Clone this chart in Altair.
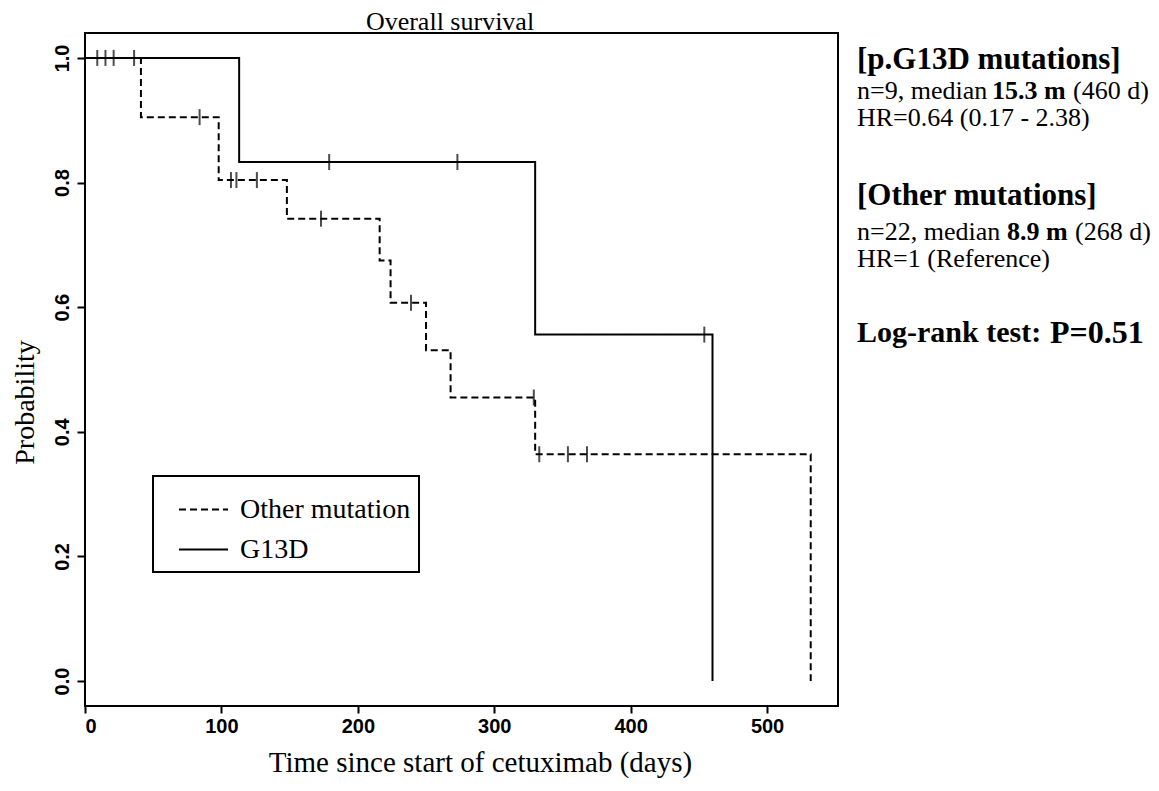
import altair as alt
import pandas as pd

# Kaplan-Meier steps (days, survival probability)
g13d_times = [0, 113, 330, 460]
g13d_surv = [1.0, 0.833, 0.556, 0.0]
other_times = [0, 41, 98, 148, 216, 224, 250, 268, 330, 532]
other_surv = [1.0, 0.905, 0.804, 0.742, 0.675, 0.607, 0.531, 0.455, 0.364, 0.0]

# censoring marks (days)
g13d_censor = [9, 15, 21, 179, 273, 454]
other_censor = [36, 84, 107, 111, 126, 173, 239, 329, 333, 354, 368]

groups = ["Other mutation", "G13D"]
x_ticks = [0, 100, 200, 300, 400, 500]
y_ticks = [0.0, 0.2, 0.4, 0.6, 0.8, 1.0]

SERIF = "Liberation Serif"
SANS = "Liberation Sans Narrow, Liberation Sans"


def surv_at(times, surv, t):
    val = surv[0]
    for tt, s in zip(times, surv):
        if tt <= t:
            val = s
    return val


curves = pd.DataFrame(
    [{"group": "G13D", "time": t, "surv": s} for t, s in zip(g13d_times, g13d_surv)]
    + [{"group": "Other mutation", "time": t, "surv": s} for t, s in zip(other_times, other_surv)]
)
censors = pd.DataFrame(
    [{"group": "G13D", "time": t, "surv": surv_at(g13d_times, g13d_surv, t)} for t in g13d_censor]
    + [{"group": "Other mutation", "time": t, "surv": surv_at(other_times, other_surv, t)} for t in other_censor]
)

x_enc = alt.X(
    "time:Q",
    scale=alt.Scale(domain=[0, 552], nice=False, zero=False),
    axis=alt.Axis(
        values=x_ticks, format="d", grid=False, domain=False,
        tickSize=7, tickWidth=2, tickColor="black",
        labelFont=SANS, labelFontSize=20, labelFontWeight="bold", labelColor="black", labelPadding=3,
        title="Time since start of cetuximab (days)", titleFont=SERIF, titleFontSize=29,
        titleFontWeight="normal", titleColor="black", titleX=395, titleY=56,
        titleAlign="center", titleBaseline="middle",
    ),
)
y_enc = alt.Y(
    "surv:Q",
    scale=alt.Scale(domain=[-0.04, 1.04], nice=False, zero=False),
    axis=alt.Axis(
        values=y_ticks, format=".1f", grid=False, domain=False,
        tickSize=8, tickWidth=2, tickColor="black",
        labelFont=SANS, labelFontSize=20, labelFontWeight="bold", labelColor="black",
        labelAngle=270, labelAlign="center", labelBaseline="alphabetic", labelPadding=9,
        title="Probability", titleFont=SERIF, titleFontSize=28, titleFontWeight="normal",
        titleColor="black", titleX=-60, titleY=369, titleAlign="center", titleBaseline="middle",
    ),
)

lines = alt.Chart(curves).mark_line(interpolate="step-after", strokeWidth=2, color="black").encode(
    x=x_enc,
    y=y_enc,
    strokeDash=alt.StrokeDash(
        "group:N",
        scale=alt.Scale(domain=groups, range=[[7, 4], [1, 0]]),
        legend=alt.Legend(
            orient="none", legendX=68, legendY=443, title=None,
            labelFont=SERIF, labelFontSize=28, labelColor="black", labelOffset=11, labelLimit=400,
            symbolType="stroke", symbolSize=2400, symbolStrokeWidth=2, symbolStrokeColor="black",
            symbolOffset=17, strokeColor="black", padding=8, rowPadding=-19,
        ),
    ),
)

marks = alt.Chart(censors).mark_tick(orient="vertical", size=16, thickness=2, color="black").encode(
    x="time:Q", y="surv:Q"
)

# title and side annotations: (text, bold, size, page x, page y, baseline)
notes = [
    ("Overall survival", False, 26, 450, 30, "alphabetic"),
    ("[p.G13D mutations]", True, 31, 857, 60, "middle"),
    ("n=9, median", False, 26, 857, 91, "middle"),
    ("15.3 m", True, 26, 992, 91, "middle"),
    ("(460 d)", False, 26, 1073, 91, "middle"),
    ("HR=0.64 (0.17 - 2.38)", False, 26, 857, 118, "middle"),
    ("[Other mutations]", True, 31, 857, 196, "middle"),
    ("n=22, median", False, 26, 857, 232, "middle"),
    ("8.9 m", True, 26, 1007, 232, "middle"),
    ("(268 d)", False, 26, 1075, 232, "middle"),
    ("HR=1 (Reference)", False, 26, 857, 259, "middle"),
    ("Log-rank test:", True, 30, 857, 333, "middle"),
    ("P=0.51", True, 32, 1050, 333, "middle"),
]
texts = []
for txt, bold, size, px, py, base in notes:
    texts.append(
        alt.Chart(pd.DataFrame({"label": [txt]}))
        .mark_text(
            font=SERIF, fontSize=size, fontWeight="bold" if bold else "normal",
            color="black", align="center" if base == "alphabetic" else "left", baseline=base,
        )
        .encode(text="label:N", x=alt.value(px - 85), y=alt.value(py - 33))
    )

chart = (
    alt.layer(lines, marks, *texts)
    .properties(
        width=753, height=673,
        autosize=alt.AutoSizeParams(type="none"),
        padding={"left": 77, "top": 25, "right": 313, "bottom": 76},
        background="white",
    )
    .configure_view(stroke="black", strokeWidth=2)
    .configure_legend(strokeWidth=2)
)

chart.save("out.html", embed_options={"renderer": "svg", "actions": False})
